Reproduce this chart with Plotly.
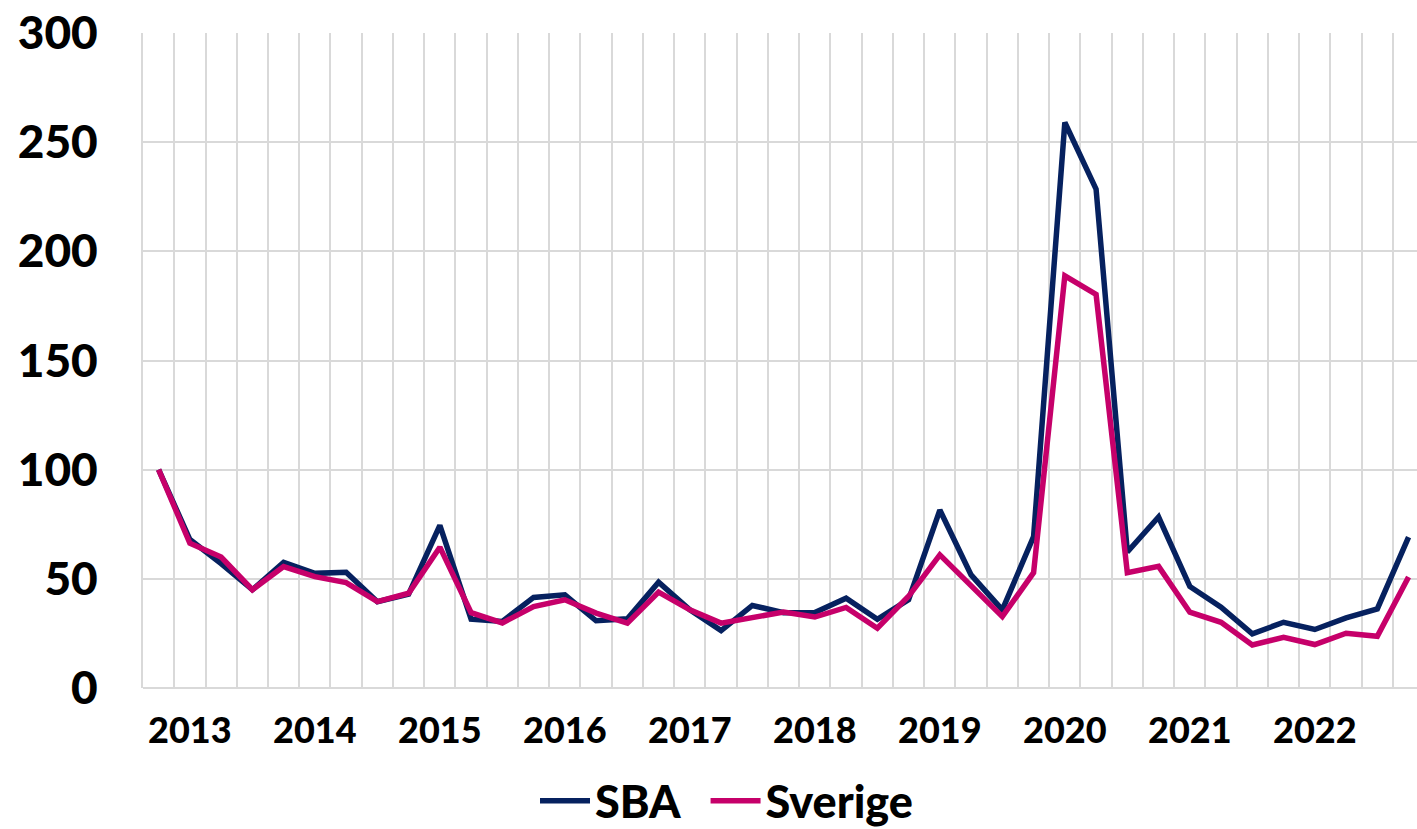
import plotly.graph_objects as go

# Quarterly index, 41 quarters
quarters = list(range(41))
year_labels = ["2013", "2014", "2015", "2016", "2017", "2018", "2019", "2020", "2021", "2022"]
year_label_pos = [1, 5, 9, 13, 17, 21, 25, 29, 33, 37]

sba = [100, 68, 57, 45, 57.5, 52.5, 53, 39.5, 43, 74.5,
       31.5, 30.5, 41.5, 42.7, 30.8, 31.7, 48.5, 35.8, 26.3, 37.8,
       34.5, 34.6, 41.1, 31.5, 40.5, 81.5, 51.8, 35.8, 69.3, 259,
       228.5, 62.3, 78.3, 46.5, 37, 24.8, 30.1, 26.8, 32.1, 36.2, 69.1]
sverige = [100, 66.3, 60, 45, 55.6, 51, 48.3, 39.6, 43.4, 64.5,
           34.5, 29.8, 37.3, 40.4, 34.3, 29.7, 43.9, 35.8, 29.7, 32.5,
           34.8, 32.5, 36.9, 27.4, 42, 61, 47, 32.7, 52.8, 188.8,
           180.3, 52.8, 55.7, 34.7, 30.1, 19.7, 23.2, 19.9, 25.1, 23.7, 50.8]

FONT = "Lato"
W = 900
fig = go.Figure()
fig.add_trace(go.Scatter(x=quarters, y=sba, name="SBA\u00a0\u00a0", mode="lines",
                         line=dict(color="#06215F", width=5.5)))
fig.add_trace(go.Scatter(x=quarters, y=sverige, name="Sverige", mode="lines",
                         line=dict(color="#C6006A", width=5.5)))

fig.update_layout(
    width=1417, height=829,
    margin=dict(l=143, r=0, t=33, b=141, autoexpand=False),
    plot_bgcolor="white", paper_bgcolor="white",
    font=dict(family=FONT, color="black", weight=W),
    legend=dict(orientation="h", xref="container", x=535 / 1417, xanchor="left",
                yref="container", y=(829 - 801) / 829, yanchor="middle",
                font=dict(size=45, family=FONT, weight=W), itemwidth=50,
                tracegroupgap=0),
    showlegend=True,
)
fig.update_xaxes(
    range=[-0.5, 40.27], automargin=False,
    tickmode="array", tickvals=year_label_pos, ticktext=year_labels,
    tickfont=dict(size=36, family=FONT, weight=W),
    showgrid=False, ticks="", ticklabelstandoff=18,
    minor=dict(tickmode="linear", tick0=0.5, dtick=1, showgrid=True,
               gridcolor="#D9D9D9", gridwidth=1.5, ticks=""),
    showline=False, zeroline=False,
)
fig.update_yaxes(
    range=[0, 300], tickvals=[0, 50, 100, 150, 200, 250, 300], automargin=False,
    tickfont=dict(size=46, family=FONT, weight=W),
    showgrid=True, gridcolor="#D9D9D9", gridwidth=1.5,
    zeroline=True, zerolinecolor="#D9D9D9", zerolinewidth=2,
    showline=True, linecolor="#D9D9D9", linewidth=2,
    ticklabelstandoff=34,
)
fig.write_html("out.html", config={"displayModeBar": False},
               post_script="document.body.style.margin='0px';document.body.style.padding='0px';")
